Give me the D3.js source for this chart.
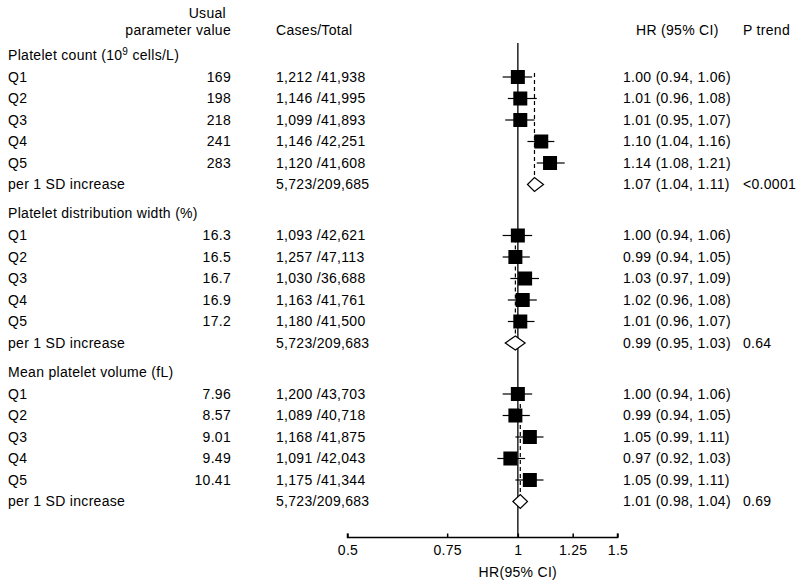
<!DOCTYPE html>
<html><head><meta charset="utf-8">
<script src="https://cdn.jsdelivr.net/npm/d3@7/dist/d3.min.js"></script>
<style>body{margin:0;background:#fff}svg{display:block}text{font-family:Arial,"Liberation Sans",sans-serif;font-size:14px;letter-spacing:0.3px;fill:#000}</style>
</head><body><svg id="c" width="800" height="587"></svg>
<script>
const sections = ["Platelet count", "Platelet distribution width (%)", "Mean platelet volume (fL)"];
const rowLabels = ["Q1", "Q2", "Q3", "Q4", "Q5", "per 1 SD increase"];
const usualValues = [
  ["169", "198", "218", "241", "283", ""],
  ["16.3", "16.5", "16.7", "16.9", "17.2", ""],
  ["7.96", "8.57", "9.01", "9.49", "10.41", ""]
];
const casesTotal = [
  ["1,212 /41,938", "1,146 /41,995", "1,099 /41,893", "1,146 /42,251", "1,120 /41,608", "5,723/209,685"],
  ["1,093 /42,621", "1,257 /47,113", "1,030 /36,688", "1,163 /41,761", "1,180 /41,500", "5,723/209,683"],
  ["1,200 /43,703", "1,089 /40,718", "1,168 /41,875", "1,091 /42,043", "1,175 /41,344", "5,723/209,683"]
];
const hr = [
  [1.00, 1.01, 1.01, 1.10, 1.14, 1.07],
  [1.00, 0.99, 1.03, 1.02, 1.01, 0.99],
  [1.00, 0.99, 1.05, 0.97, 1.05, 1.01]
];
const lower = [
  [0.94, 0.96, 0.95, 1.04, 1.08, 1.04],
  [0.94, 0.94, 0.97, 0.96, 0.96, 0.95],
  [0.94, 0.94, 0.99, 0.92, 0.99, 0.98]
];
const upper = [
  [1.06, 1.08, 1.07, 1.16, 1.21, 1.11],
  [1.06, 1.05, 1.09, 1.08, 1.07, 1.03],
  [1.06, 1.05, 1.11, 1.03, 1.11, 1.04]
];
const pTrend = ["<0.0001", "0.64", "0.69"];
const xTicks = [0.5, 0.75, 1, 1.25, 1.5];
const xTickLabels = ["0.5", "0.75", "1", "1.25", "1.5"];

const svg = d3.select("#c");
const x = d3.scaleLog().domain([0.5, 1.5]).range([347.5, 617.5]);
const sectionY = [55, 213.5, 372];
const rowY = (s, i) => sectionY[s] + 22 + i * 21.5;
const fmt = d3.format(".2f");

// headers
svg.append("text").attr("x", 226).attr("y", 13).attr("dy", "0.35em").attr("text-anchor", "end").text("Usual");
svg.append("text").attr("x", 231).attr("y", 30).attr("dy", "0.35em").attr("text-anchor", "end").text("parameter value");
svg.append("text").attr("x", 276).attr("y", 30).attr("dy", "0.35em").text("Cases/Total");
svg.append("text").attr("x", 636).attr("y", 30).attr("dy", "0.35em").text("HR (95% CI)");
svg.append("text").attr("x", 743).attr("y", 30).attr("dy", "0.35em").text("P trend");

// reference line at 1
const axisY = 537.5;
svg.append("line").attr("x1", x(1)).attr("x2", x(1)).attr("y1", 43).attr("y2", axisY)
  .attr("stroke", "#222").attr("stroke-width", 1.5);

sections.forEach((name, s) => {
  const head = svg.append("text").attr("x", 8).attr("y", sectionY[s]).attr("dy", "0.35em");
  if (s === 0) {
    head.append("tspan").text("Platelet count (10");
    head.append("tspan").attr("baseline-shift", "super").style("font-size", "10px").text("9");
    head.append("tspan").text(" cells/L)");
  } else head.text(name);

  // dashed line at overall HR
  const yDiaTop = rowY(s, 5) - 7;
  svg.append("line").attr("x1", x(hr[s][5])).attr("x2", x(hr[s][5]))
    .attr("y1", rowY(s, 0) - 4).attr("y2", yDiaTop)
    .attr("stroke", "#000").attr("stroke-width", 1.2).attr("stroke-dasharray", "4,3");

  rowLabels.forEach((lab, i) => {
    const y = rowY(s, i);
    svg.append("text").attr("x", 8).attr("y", y).attr("dy", "0.35em").text(lab);
    if (usualValues[s][i]) svg.append("text").attr("x", 231).attr("y", y).attr("dy", "0.35em").attr("text-anchor", "end").text(usualValues[s][i]);
    svg.append("text").attr("x", 276).attr("y", y).attr("dy", "0.35em").text(casesTotal[s][i]);
    svg.append("text").attr("x", 623).attr("y", y).attr("dy", "0.35em")
      .text(`${fmt(hr[s][i])} (${fmt(lower[s][i])}, ${fmt(upper[s][i])})`);
    if (i < 5) {
      svg.append("line").attr("x1", x(lower[s][i])).attr("x2", x(upper[s][i])).attr("y1", y).attr("y2", y)
        .attr("stroke", "#000").attr("stroke-width", 1.2);
      svg.append("rect").attr("x", x(hr[s][i]) - 7).attr("y", y - 7).attr("width", 14).attr("height", 14).attr("fill", "#000");
    } else {
      const xl = x(lower[s][i]), xu = x(upper[s][i]), xc = x(hr[s][i]);
      svg.append("path").attr("d", `M${xl},${y}L${xc},${y - 7}L${xu},${y}L${xc},${y + 7}Z`)
        .attr("fill", "#fff").attr("stroke", "#000").attr("stroke-width", 1.2);
      svg.append("text").attr("x", 743).attr("y", y).attr("dy", "0.35em").text(pTrend[s]);
    }
  });
});

// x axis
const ax = svg.append("g").attr("transform", `translate(0,${axisY})`)
  .call(d3.axisTop(x).tickValues(xTicks).tickFormat((d, i) => xTickLabels[i]).tickSize(4).tickSizeOuter(0));
ax.select(".domain").attr("stroke", "#000").attr("stroke-width", 1.5).attr("d", `M${x(0.5)},-4V0H${x(1.5)}V-4`);
ax.selectAll(".tick line").attr("stroke", "#000").attr("stroke-width", 1.5);
ax.selectAll(".tick text").attr("y", 13).attr("dy", "0.35em").style("font-size", "14px").style("font-family", "Arial, 'Liberation Sans', sans-serif").attr("fill", "#000");
svg.append("text").attr("x", x(1)).attr("y", 572).attr("dy", "0.35em").attr("text-anchor", "middle").text("HR(95% CI)");
</script></body></html>
